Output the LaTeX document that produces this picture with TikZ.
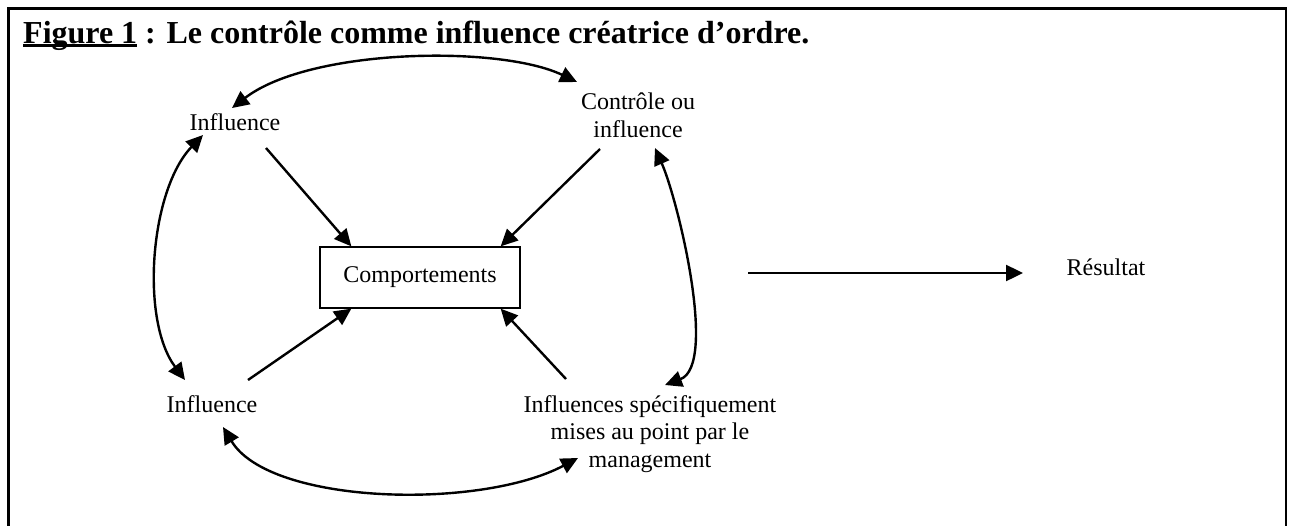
\documentclass[tikz,border=0pt]{standalone}
\usepackage{fontspec}
\setmainfont{Liberation Serif}
\usetikzlibrary{arrows.meta,calc}
\newcommand{\thickul}[1]{\setbox0\hbox{#1}\rlap{\raisebox{-4pt}{\rule{\wd0}{2.6pt}}}\box0\relax}
\begin{document}
\begin{tikzpicture}[x=1pt,y=-1pt,
  lbl/.style={font=\fontsize{24}{27.5}\selectfont, inner sep=0pt},
  compbox/.style={draw, line width=1.3pt, minimum width=200pt, minimum height=61pt, inner sep=0pt, font=\fontsize{24}{27}\selectfont},
  conn/.style={line width=2.4pt, -{Triangle[length=17pt,width=16pt]}},
  dconn/.style={line width=2.4pt, {Triangle[length=17pt,width=16pt]}-{Triangle[length=17pt,width=16pt]}}]
\useasboundingbox (0,0) rectangle (1293,525);
\begin{scope}
\clip (0,0) rectangle (1293,525);
\draw[line width=2.8pt] (8.5,8.5) rectangle (1286,560);
\end{scope}
% title
\node[anchor=base west, inner sep=0pt, font=\fontsize{32}{36}\selectfont\bfseries] (title) at (23,43) {\thickul{Figure 1} : Le contrôle comme influence créatrice d’ordre.};
% nodes
\node[lbl, anchor=base] (infTL) at (235,130) {Influence};
\node[lbl, anchor=base, align=center] (ctrl) at (638,137) {Contrôle ou\\influence};
\node[compbox] (comp) at (420,277.5) {Comportements};
\node[lbl, anchor=base] (infBL) at (212,412) {Influence};
\node[lbl, anchor=base, align=center] (spec) at (650,467) {Influences spécifiquement\\mises au point par le\\management};
\node[lbl, anchor=base] (res) at (1106,275) {Résultat};
% coordinates
\coordinate (p1) at (266,148);
\coordinate (p2) at (600,149);
\coordinate (p3) at (248,380);
\coordinate (p4) at (566,379);
\coordinate (r1) at (748,273);
\coordinate (r2) at (1023,273);
\coordinate (tA) at (232,108);
\coordinate (tB) at (577,82);
\coordinate (lA) at (203,135);
\coordinate (lB) at (185,380);
\coordinate (rA) at (655,148);
\coordinate (rB) at (665,385);
\coordinate (bA) at (223,427);
\coordinate (bB) at (578,458);
% straight arrows
\draw[conn] (p1) -- ($(comp.north west)+(32,0)$);
\draw[conn] (p2) -- ($(comp.north east)+(-20,0)$);
\draw[conn] (p3) -- ($(comp.south west)+(32,0)$);
\draw[conn] (p4) -- ($(comp.south east)+(-20,0)$);
\draw[conn] (r1) -- (r2);
% curved double arrows
\draw[dconn] (tA) .. controls (310,48) and (500,45) .. (tB);
\draw[dconn] (lA) .. controls (150,190) and (140,320) .. (lB);
\draw[dconn] (rA) .. controls (678,200) and (718,365) .. (rB);
\draw[dconn] (bA) .. controls (270,505) and (480,510) .. (bB);
\end{tikzpicture}
\end{document}
